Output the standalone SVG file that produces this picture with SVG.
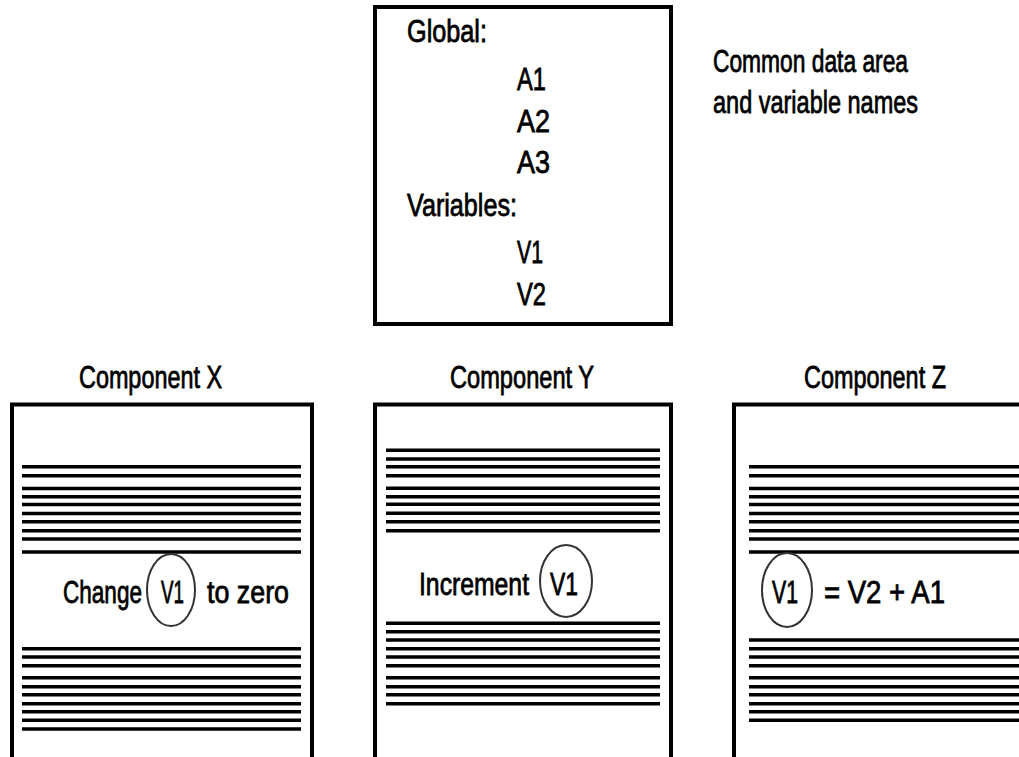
<svg xmlns="http://www.w3.org/2000/svg" width="1019" height="757" viewBox="0 0 1019 757">
<style>
.box{fill:none;stroke:#000;stroke-width:4}
.t{font-family:"Liberation Sans",Arial,sans-serif;font-size:24px;fill:#000;stroke:#000;stroke-width:0.6}
.ln{stroke:#000;stroke-width:3.5}
.ov{fill:none;stroke:#333;stroke-width:2}
</style>
<rect width="1019" height="757" fill="#fff"/>
<g id="common-data">
<rect class="box" x="375" y="7" width="296" height="317"/>
<text class="t" transform="translate(407 42) scale(1 1.33)" textLength="80" lengthAdjust="spacingAndGlyphs">Global:</text>
<text class="t" transform="translate(517 90) scale(1 1.33)" textLength="29" lengthAdjust="spacingAndGlyphs">A1</text>
<text class="t" transform="translate(517 132) scale(1 1.33)" textLength="33" lengthAdjust="spacingAndGlyphs">A2</text>
<text class="t" transform="translate(517 173) scale(1 1.33)" textLength="33" lengthAdjust="spacingAndGlyphs">A3</text>
<text class="t" transform="translate(407 216) scale(1 1.33)" textLength="110" lengthAdjust="spacingAndGlyphs">Variables:</text>
<text class="t" transform="translate(517 263) scale(1 1.33)" textLength="26" lengthAdjust="spacingAndGlyphs">V1</text>
<text class="t" transform="translate(517 305) scale(1 1.33)" textLength="29" lengthAdjust="spacingAndGlyphs">V2</text>
</g>
<g id="caption">
<text class="t" transform="translate(713 72) scale(1 1.33)" textLength="195" lengthAdjust="spacingAndGlyphs">Common data area</text>
<text class="t" transform="translate(713 113) scale(1 1.33)" textLength="205" lengthAdjust="spacingAndGlyphs">and variable names</text>
</g>
<g id="component-x">
<text class="t" transform="translate(79 388) scale(1 1.33)" textLength="143" lengthAdjust="spacingAndGlyphs">Component X</text>
<rect class="box" x="12" y="404.5" width="300" height="400"/>
<g class="ln">
<line x1="22" x2="301" y1="466.8" y2="466.8"/><line x1="22" x2="301" y1="475.8" y2="475.8"/>
<line x1="22" x2="301" y1="488.5" y2="488.5"/><line x1="22" x2="301" y1="496.8" y2="496.8"/>
<line x1="22" x2="301" y1="504.5" y2="504.5"/><line x1="22" x2="301" y1="513.5" y2="513.5"/>
<line x1="22" x2="301" y1="521.7" y2="521.7"/><line x1="22" x2="301" y1="530.7" y2="530.7"/>
<line x1="22" x2="301" y1="539" y2="539"/><line x1="22" x2="301" y1="552" y2="552"/>
<line x1="22" x2="301" y1="648.7" y2="648.7"/><line x1="22" x2="301" y1="657" y2="657"/>
<line x1="22" x2="301" y1="665.8" y2="665.8"/><line x1="22" x2="301" y1="677.7" y2="677.7"/>
<line x1="22" x2="301" y1="686.7" y2="686.7"/><line x1="22" x2="301" y1="694.7" y2="694.7"/>
<line x1="22" x2="301" y1="703.7" y2="703.7"/><line x1="22" x2="301" y1="711.7" y2="711.7"/>
<line x1="22" x2="301" y1="720.3" y2="720.3"/><line x1="22" x2="301" y1="729" y2="729"/>
</g>
<text class="t" transform="translate(63 603) scale(1 1.33)" textLength="79" lengthAdjust="spacingAndGlyphs">Change</text>
<ellipse class="ov" cx="171" cy="590" rx="24" ry="36"/>
<text class="t" transform="translate(161 603) scale(1 1.33)" textLength="23" lengthAdjust="spacingAndGlyphs">V1</text>
<text class="t" transform="translate(207 603) scale(1 1.33)" textLength="82" lengthAdjust="spacingAndGlyphs">to zero</text>
</g>
<g id="component-y">
<text class="t" transform="translate(450 388) scale(1 1.33)" textLength="144" lengthAdjust="spacingAndGlyphs">Component Y</text>
<rect class="box" x="375" y="404.5" width="296" height="400"/>
<g class="ln">
<line x1="386" x2="660" y1="450.2" y2="450.2"/><line x1="386" x2="660" y1="459" y2="459"/>
<line x1="386" x2="660" y1="466.7" y2="466.7"/><line x1="386" x2="660" y1="475.7" y2="475.7"/>
<line x1="386" x2="660" y1="488.3" y2="488.3"/><line x1="386" x2="660" y1="496.7" y2="496.7"/>
<line x1="386" x2="660" y1="504.3" y2="504.3"/><line x1="386" x2="660" y1="513.3" y2="513.3"/>
<line x1="386" x2="660" y1="521.7" y2="521.7"/><line x1="386" x2="660" y1="530.7" y2="530.7"/>
<line x1="386" x2="660" y1="623.3" y2="623.3"/><line x1="386" x2="660" y1="631.7" y2="631.7"/>
<line x1="386" x2="660" y1="640" y2="640"/><line x1="386" x2="660" y1="648.7" y2="648.7"/>
<line x1="386" x2="660" y1="657" y2="657"/><line x1="386" x2="660" y1="665.7" y2="665.7"/>
<line x1="386" x2="660" y1="677.7" y2="677.7"/><line x1="386" x2="660" y1="686.7" y2="686.7"/>
<line x1="386" x2="660" y1="694.7" y2="694.7"/><line x1="386" x2="660" y1="703.7" y2="703.7"/>
</g>
<text class="t" transform="translate(419 595) scale(1 1.33)" textLength="110" lengthAdjust="spacingAndGlyphs">Increment</text>
<ellipse class="ov" cx="566" cy="581" rx="26" ry="36"/>
<text class="t" transform="translate(550 595) scale(1 1.33)" textLength="28" lengthAdjust="spacingAndGlyphs">V1</text>
</g>
<g id="component-z">
<text class="t" transform="translate(804 388) scale(1 1.33)" textLength="142" lengthAdjust="spacingAndGlyphs">Component Z</text>
<rect class="box" x="734" y="404.5" width="300" height="400"/>
<g class="ln">
<line x1="749" x2="1019" y1="466.8" y2="466.8"/><line x1="749" x2="1019" y1="475.8" y2="475.8"/>
<line x1="749" x2="1019" y1="488.5" y2="488.5"/><line x1="749" x2="1019" y1="496.8" y2="496.8"/>
<line x1="749" x2="1019" y1="504.5" y2="504.5"/><line x1="749" x2="1019" y1="513.5" y2="513.5"/>
<line x1="749" x2="1019" y1="521.7" y2="521.7"/><line x1="749" x2="1019" y1="530.7" y2="530.7"/>
<line x1="749" x2="1019" y1="539" y2="539"/><line x1="749" x2="1019" y1="552" y2="552"/>
<line x1="749" x2="1019" y1="640" y2="640"/><line x1="749" x2="1019" y1="648.7" y2="648.7"/>
<line x1="749" x2="1019" y1="657" y2="657"/><line x1="749" x2="1019" y1="665.7" y2="665.7"/>
<line x1="749" x2="1019" y1="677.7" y2="677.7"/><line x1="749" x2="1019" y1="686.7" y2="686.7"/>
<line x1="749" x2="1019" y1="694.7" y2="694.7"/><line x1="749" x2="1019" y1="703.7" y2="703.7"/>
<line x1="749" x2="1019" y1="711.7" y2="711.7"/><line x1="749" x2="1019" y1="720.3" y2="720.3"/>
</g>
<ellipse class="ov" cx="787" cy="590" rx="25" ry="37"/>
<text class="t" transform="translate(772 603) scale(1 1.33)" textLength="26" lengthAdjust="spacingAndGlyphs">V1</text>
<text class="t" transform="translate(824 603) scale(1 1.33)" textLength="121" lengthAdjust="spacingAndGlyphs">= V2 + A1</text>
</g>
<g id="connectors"/>
</svg>
